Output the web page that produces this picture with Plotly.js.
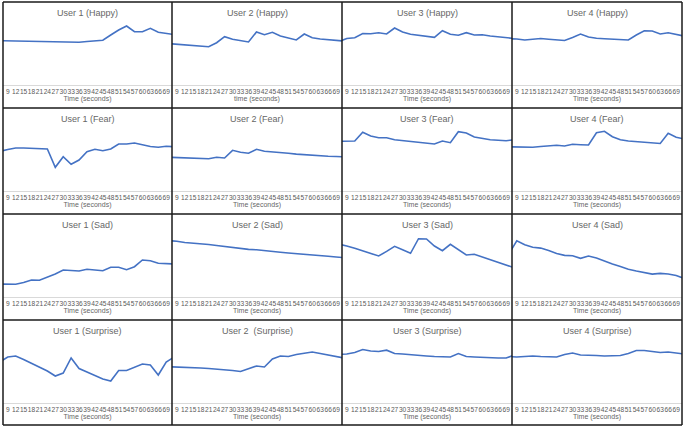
<!DOCTYPE html>
<html><head><meta charset="utf-8">
<script src="https://cdn.plot.ly/plotly-3.0.1.min.js"></script>
<style>html,body{margin:0;padding:0;background:#fff}</style>
</head><body>
<div id="chart" style="width:685px;height:431px"></div>
<script>
// ---- data ----
const time = [3,6,9,12,15,18,21,24,27,30,33,36,39,42,45,48,51,54,57,60,63,66,69,72];
const timeLabels = time.map(String);

const user1Happy = [44.5,44.4,44.2,44,43.8,43.6,43.4,43.2,43,43,42.9,42.8,43.5,44.2,44.8,50,55,59,53.3,53.3,56.7,52.7,51.5,50.5];
const user2Happy = [42,41.5,41,40.5,40,39.5,38.3,42.3,48.3,45.7,44.5,43,53,50.3,52.7,49,47,45,51,47.3,46,45.5,44.8,44];
const user3Happy = [42.5,43.3,46.5,47.3,51.5,51.3,52.2,51,57,53,50.7,49.5,48.5,47.7,54.3,50.7,49.7,52.3,50,50.3,49,48.3,47.3,46.5];
const user4Happy = [46.5,46.5,46,45,45.8,46.5,45.8,45.5,44.5,47.5,51,48,46.7,46.2,45.7,45.3,45,50,54.3,54,51,52.3,50.7,49];

const user1Fear = [38.5,39.5,41.5,43,43,42.5,42.3,42,23.7,34.3,26.7,31,39.3,41.7,40.3,42,47,47,48,46,44.5,43.7,44.7,44.3];
const user2Fear = [34,33.8,33.7,33.3,33,32.7,32.3,33.7,33,40.7,38.7,37.7,41.7,39.7,39.2,38.3,37.7,36.9,36.2,35.5,35.1,34.8,34.5,34.2];
const user3Fear = [49.5,49.5,49.3,50,58.7,55,53.3,53.3,51.3,50.3,49.3,48.5,47.7,47,50,48.3,59.3,58,54,52.7,51.3,50.8,50.3,51.3];
const user4Fear = [44.3,44.3,44.2,44,43.7,44.5,45.3,45.8,45,46.7,46.3,46,58.3,59.7,54.3,51.3,50,49.3,48.5,48.2,47.5,57.7,53.7,52];

const user1Sad = [13,13,13,12.8,14.5,17,16.7,19.5,23,27,26.5,26,27.7,27,26.3,29.7,29.7,27.3,30.3,37,36.3,33.7,33.5,33];
const user2Sad = [57,56.5,55.8,54.5,54,52.8,52.5,51.5,50.5,49.6,48.4,47.6,47.2,46.6,45.6,44.8,44,43.2,42.5,41.8,41.3,40.7,40,39.3];
const user3Sad = [55,53.3,51,48.7,46.2,43.7,41,45.6,50.7,47.2,43.7,58.3,58,51,46.3,52.7,47.4,42,42.7,40,37,34.6,32,29.3];
const user4Sad = [40,43,56.1,52.3,49.7,48.9,46.5,43.5,41.6,41.2,38.7,41,39,35.7,33,30.4,27.8,26,24.2,22.9,23.6,23,21.5,18.5];

const user1Surprise = [33,41,46,47,43.5,39.5,35.5,32,27,30,45,34.5,31,27.5,24,22,32.5,32.5,36,39,38,28,41,46];
const user2Surprise = [36.5,36.3,36,35.6,35.3,35,34.5,34,33.2,32.5,31.5,34.5,37,36,44,47,46.5,48.5,50,51,49.5,48,46.5,45];
const user3Surprise = [48,48.3,49,50.5,53.5,52,51.5,52.8,49.5,49,48.3,47,47,46.5,46.2,46,49.5,46.5,46,45.5,45,45,45,48];
const user4Surprise = [47,46.5,46,46.5,47,46.5,46.2,46,48.5,50,48,48,47.5,47,47,47.5,49.5,52.5,52.5,51.5,50.5,51,50,49];

const panelTitles = [
  "User 1 (Happy)","User 2 (Happy)","User 3 (Happy)","User 4 (Happy)",
  "User 1 (Fear)","User 2 (Fear)","User 3 (Fear)","User 4 (Fear)",
  "User 1 (Sad)","User 2 (Sad)","User 3 (Sad)","User 4 (Sad)",
  "User 1 (Surprise)","User 2  (Surprise)","User 3 (Surprise)","User 4 (Surprise)"
];
const axisTitles = [
  "Time (seconds)","time (seconds)","Time (seconds)","Time (seconds)",
  "Time (seconds)","Time (seconds)","Time (seconds)","Time (seconds)",
  "Time (seconds)","Time (seconds)","Time (seconds)","Time (seconds)",
  "Time (seconds)","Time (seconds)","Time (seconds)","Time (seconds)"
];
const series = [
  user1Happy,user2Happy,user3Happy,user4Happy,
  user1Fear,user2Fear,user3Fear,user4Fear,
  user1Sad,user2Sad,user3Sad,user4Sad,
  user1Surprise,user2Surprise,user3Surprise,user4Surprise
];

// ---- layout geometry ----
const W = 685, H = 431;
const colEdges = [3,172,342,512,682];
const rowEdges = [2,108,214,320,425];
const px = x => x / W;
const py = y => 1 - y / H;
const FONT = "Liberation Sans, Arial, sans-serif";
const GREY = "#595959";

const traces = [];
const layout = {
  width: W, height: H,
  margin: {l:0, r:0, t:0, b:0},
  paper_bgcolor: "#fff", plot_bgcolor: "rgba(0,0,0,0)",
  showlegend: false,
  font: {family: FONT, color: GREY},
  annotations: [],
  shapes: []
};

for (let k = 0; k < 16; k++) {
  const r = Math.floor(k / 4), c = k % 4;
  const sfx = k === 0 ? "" : String(k + 1);
  const L = colEdges[c], R = colEdges[c + 1], T = rowEdges[r];
  traces.push({
    x: time, y: series[k], type: "scatter", mode: "lines",
    xaxis: "x" + sfx, yaxis: "y" + sfx,
    line: {color: "#4472C4", width: 1.6}, hoverinfo: "skip"
  });
  layout["xaxis" + sfx] = {
    domain: [px(L), px(R)], anchor: "y" + sfx,
    range: [7.2, 71.2], tickmode: "array", tickvals: time, ticktext: timeLabels,
    tickangle: 0, ticks: "", showgrid: false, zeroline: false,
    showline: true, linecolor: "#d9d9d9", linewidth: 1,
    tickfont: {size: 6.6, color: GREY, family: FONT},
    title: {text: axisTitles[k], font: {size: 7, color: "#666666", family: FONT}, standoff: 2},
    fixedrange: true
  };
  layout["yaxis" + sfx] = {
    domain: [py(T + 83), py(T + 3)], anchor: "x" + sfx,
    range: [0, 80], visible: false, fixedrange: true
  };
  layout.annotations.push({
    text: panelTitles[k], xref: "paper", yref: "paper",
    x: px((L + R) / 2), y: py(T + 11), xanchor: "center", yanchor: "middle",
    showarrow: false, font: {size: 9, color: "#666666", family: FONT}
  });
}
// cell borders
colEdges.forEach(x => layout.shapes.push({type:"line", xref:"paper", yref:"paper",
  x0:px(x), x1:px(x), y0:py(rowEdges[0]), y1:py(rowEdges[4]), line:{color:"#1a1a1a", width:1.5}}));
rowEdges.forEach(y => layout.shapes.push({type:"line", xref:"paper", yref:"paper",
  x0:px(colEdges[0]), x1:px(colEdges[4]), y0:py(y), y1:py(y), line:{color:"#1a1a1a", width:1.5}}));

Plotly.newPlot("chart", traces, layout, {staticPlot: true, displayModeBar: false});
</script>
</body></html>
